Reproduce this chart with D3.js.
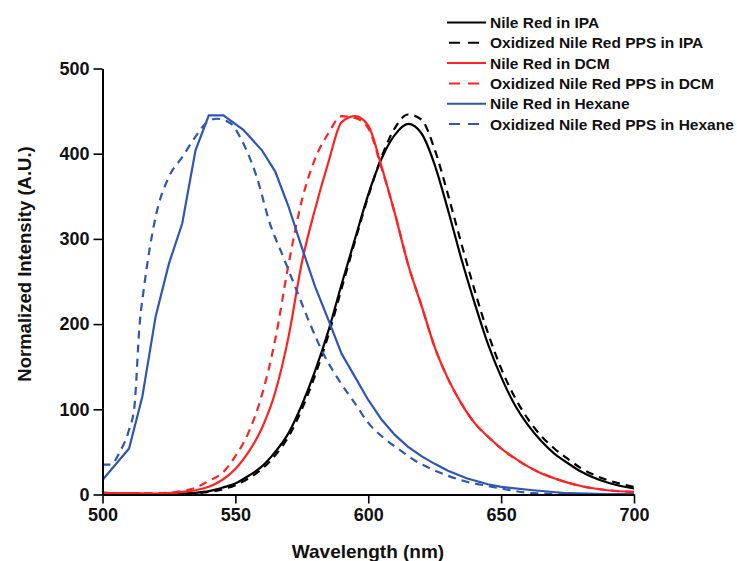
<!DOCTYPE html>
<html>
<head>
<meta charset="utf-8">
<script src="https://cdn.jsdelivr.net/npm/d3@7"></script>
<style>
  body { margin: 0; background: #fff; }
  text { font-family: Arial, "Liberation Sans", sans-serif; font-weight: bold; }
</style>
</head>
<body>
<script>
const width = 737;
const height = 561;

// data (wavelength nm, normalized intensity)
const ipaX = [500,510,520,530,535,540,545,550,555,560,565,570,575,580,585,590,595,600,605,610,615,620,625,630,635,640,645,650,655,660,665,670,675,680,690,700];
const ipaY = [1,1,0.5,1,2,4,8,13,22,33,50,72,105,145,192,247,300,352,394,422,435,424,387,334,277,225,177,138,106,82,63,48,37,27,14,7];

const oxIpaX = [500,510,520,530,540,545,550,555,560,565,570,575,580,585,590,595,600,605,610,615,620,625,630,635,640,645,650,655,660,665,670,675,680,690,700];
const oxIpaY = [2,1,1,1,3,6,11,19,30,46,68,100,140,187,242,297,350,396,430,446,440,405,352,295,240,190,148,115,89,69,54,42,31,17,9];

const dcmX = [500,510,520,525,530,535,540,545,550,555,560,565,570,575,580,585,590,595,600,605,610,615,620,625,630,635,640,645,650,655,660,665,670,675,680,690,700];
const dcmY = [2,1.5,1,1.5,3,5,9,17,30,50,78,120,185,272,335,390,437,444,433,385,330,270,222,173,136,107,84,68,54,43,33,25,19,14,10,5,3];

const oxDcmX = [500,510,520,525,530,535,540,545,550,555,560,565,570,575,580,585,590,595,600,605,610,615,620,625,630,635,640,645,650,660,670,680,690,700];
const oxDcmY = [1,1,1.5,2,4,8,16,25,45,73,117,182,270,345,394,424,444,442,430,383,330,270,222,173,136,107,84,68,54,33,19,10,5,3];

const hexX = [500,510,515,520,525,530,535,540,545.5,553,560,565,570,575,580,585,590,595,600,605,610,615,620,625,630,637,645,650,662,675,690,700];
const hexY = [17,54,115,209,271,318,404,445,445,428,404,379,338,290,244,205,165,138,111,88,70,56,45,36,28,19,12,9,5,1.5,0.5,0.5];

const oxHexX = [500,503,506.5,510,512,514,515.5,520,525,530,535,539,543,548,553,558,563,568,573,578,583,589,595,600,606,612,618,624.5,630,637,645,650,662,675,700];
const oxHexY = [35,35,50,76,103,201,240,326,373,396,420,436,441,436,412,373,318,279,240,201,166,134,107,84,66,52,39,29,22,15,10,7,1.5,0.5,0];

const seriesNames = ["Nile Red in IPA", "Oxidized Nile Red PPS in IPA", "Nile Red in DCM",
  "Oxidized Nile Red PPS in DCM", "Nile Red in Hexane", "Oxidized Nile Red PPS in Hexane"];
const xTicks = [500, 550, 600, 650, 700];
const yTicks = [0, 100, 200, 300, 400, 500];

const series = [
  {name: seriesNames[0], x: ipaX, y: ipaY, color: "#000", dash: null, curve: d3.curveMonotoneX},
  {name: seriesNames[1], x: oxIpaX, y: oxIpaY, color: "#000", dash: "8,6", curve: d3.curveMonotoneX},
  {name: seriesNames[2], x: dcmX, y: dcmY, color: "#f22", dash: null, curve: d3.curveMonotoneX},
  {name: seriesNames[3], x: oxDcmX, y: oxDcmY, color: "#f22", dash: "8,6", curve: d3.curveMonotoneX},
  {name: seriesNames[4], x: hexX, y: hexY, color: "#2f55b5", dash: null, curve: d3.curveLinear},
  {name: seriesNames[5], x: oxHexX, y: oxHexY, color: "#2f55b5", dash: "8,6", curve: d3.curveMonotoneX}
];

const svg = d3.select('body').append('svg')
  .attr('width', width)
  .attr('height', height);

const x = d3.scaleLinear().domain([500, 700]).range([102.5, 634]);
const y = d3.scaleLinear().domain([0, 500]).range([494.5, 68.5]);

// curves
const g = svg.append('g');
series.forEach(s => {
  const line = d3.line()
    .x((d, i) => x(s.x[i]))
    .y(d => y(d))
    .curve(s.curve);
  g.append('path')
    .datum(s.y)
    .attr('fill', 'none')
    .attr('stroke', s.color)
    .attr('stroke-width', 2.2)
    .attr('stroke-dasharray', s.dash)
    .attr('d', line);
});

// axes: major ticks with labels, minor ticks without
const xAxis = svg.append('g').attr('transform', 'translate(0,' + y(0) + ')');
xAxis.call(d3.axisBottom(x).tickValues(d3.range(525, 700, 50)).tickSize(5).tickFormat(''));
xAxis.call(d3.axisBottom(x).tickValues(xTicks).tickSize(9).tickPadding(5).tickSizeOuter(0));
const yAxis = svg.append('g').attr('transform', 'translate(' + x(500) + ',0)');
yAxis.call(d3.axisLeft(y).tickValues(d3.range(50, 500, 100)).tickSize(5).tickFormat(''));
yAxis.call(d3.axisLeft(y).tickValues(yTicks).tickSize(9).tickPadding(4).tickSizeOuter(0));

svg.selectAll('.domain').attr('stroke', '#000').attr('stroke-width', 2);
svg.selectAll('.tick line').attr('stroke', '#000').attr('stroke-width', 1.6);
svg.selectAll('.tick text')
  .attr('font-family', 'Arial, "Liberation Sans", sans-serif')
  .attr('font-size', 18).attr('font-weight', 'bold').attr('fill', '#111');

// axis titles
svg.append('text')
  .attr('x', 368).attr('y', 558)
  .attr('text-anchor', 'middle')
  .attr('font-size', 19)
  .attr('fill', '#111')
  .text('Wavelength (nm)');
svg.append('text')
  .attr('transform', 'translate(31,264) rotate(-90)')
  .attr('text-anchor', 'middle')
  .attr('font-size', 18.5)
  .attr('fill', '#111')
  .text('Normalized Intensity (A.U.)');

// legend
const legend = svg.append('g');
series.forEach((s, i) => {
  const yy = 22.5 + i * 20.3;
  legend.append('line')
    .attr('x1', 447).attr('x2', 486)
    .attr('y1', yy).attr('y2', yy)
    .attr('stroke', s.color)
    .attr('stroke-width', 2)
    .attr('stroke-dasharray', s.dash ? '11,8' : null)
    .attr('stroke-dashoffset', s.dash ? -2 : null);
  legend.append('text')
    .attr('x', 490).attr('y', yy + 5.5)
    .attr('font-size', 15.5)
    .attr('fill', '#111')
    .text(s.name);
});
</script>
</body>
</html>
